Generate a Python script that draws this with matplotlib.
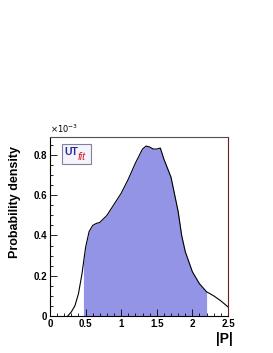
import numpy as np
import matplotlib
matplotlib.use('Agg')
from matplotlib import pyplot as plt
from matplotlib.patches import Rectangle

plt.rcParams['font.family'] = ['Liberation Sans', 'DejaVu Sans']

# curve of |P| (values in units of 1e-3)
p_vals = [0.25, 0.3, 0.35, 0.4, 0.45, 0.5, 0.55, 0.6, 0.65, 0.7, 0.8, 0.9, 1.0,
          1.1, 1.2, 1.3, 1.35, 1.4, 1.45, 1.5, 1.55, 1.6, 1.7, 1.8, 1.85, 1.9,
          2.0, 2.1, 2.2, 2.3, 2.4, 2.5]
dens = [0.0, 0.02, 0.05, 0.11, 0.21, 0.34, 0.42, 0.45, 0.46, 0.465, 0.5, 0.555,
        0.61, 0.68, 0.76, 0.83, 0.845, 0.84, 0.83, 0.83, 0.835, 0.78, 0.69,
        0.52, 0.40, 0.32, 0.22, 0.16, 0.12, 0.10, 0.075, 0.045]
shade_lo, shade_hi = 0.47, 2.2

x = np.array(p_vals)
y = np.array(dens)

fig = plt.figure(figsize=(2.73, 3.53), dpi=100)
ax = fig.add_axes([0.183, 0.105, 0.652, 0.507])

# shaded interval (edges from the same points)
m = (x >= shade_lo) & (x <= shade_hi)
xs = np.concatenate(([shade_lo], x[m], [shade_hi]))
ys = np.concatenate(([np.interp(shade_lo, x, y)], y[m], [np.interp(shade_hi, x, y)]))
ax.fill_between(xs, 0, ys, color='#9494e6', lw=0)
ax.plot(x, y, color='black', lw=0.8)

ax.set_xlim(0, 2.5)
ax.set_ylim(0, 0.89)
ax.set_xticks([0, 0.5, 1, 1.5, 2, 2.5])
ax.set_xticklabels(['0', '0.5', '1', '1.5', '2', '2.5'])
ax.set_yticks([0, 0.2, 0.4, 0.6, 0.8])
ax.set_yticklabels(['0', '0.2', '0.4', '0.6', '0.8'])
ax.set_xticks(np.arange(0, 2.51, 0.1), minor=True)
ax.set_yticks(np.arange(0, 0.89, 0.05), minor=True)
ax.tick_params(which='both', direction='in', top=False, right=False,
               labelsize=7, pad=2)
ax.tick_params(which='major', length=5, width=0.6)
ax.tick_params(which='minor', length=2.5, width=0.6)
for lab in ax.get_xticklabels() + ax.get_yticklabels():
    lab.set_fontweight('bold')
for s in ax.spines.values():
    s.set_linewidth(0.8)
ax.spines['right'].set_color('#6b1f1f')
ax.spines['top'].set_color('#5a4a4a')

fig.text(0.183, 0.618, r'$\times10^{-3}$', fontsize=6, ha='left', va='bottom')
fig.text(0.055, 0.585, 'Probability density', rotation=90, ha='center',
         va='top', fontsize=9, fontweight='bold')
fig.text(0.79, 0.02, '|P|', ha='left', va='bottom', fontsize=10,
         fontweight='bold')

# UTfit logo
ax.add_patch(Rectangle((0.07, 0.85), 0.16, 0.11, transform=ax.transAxes,
                       facecolor='#f4f4fa', edgecolor='#8080a0', lw=0.8,
                       zorder=5))
ax.text(0.08, 0.915, 'UT', transform=ax.transAxes, color='#2a2a9a',
        fontsize=7.5, fontweight='bold', va='center', ha='left', zorder=6)
ax.text(0.158, 0.89, 'fit', transform=ax.transAxes, color='#d02030',
        fontsize=7.5, fontstyle='italic', va='center',
        ha='left', zorder=6)

fig.savefig('out.png', dpi=100)
